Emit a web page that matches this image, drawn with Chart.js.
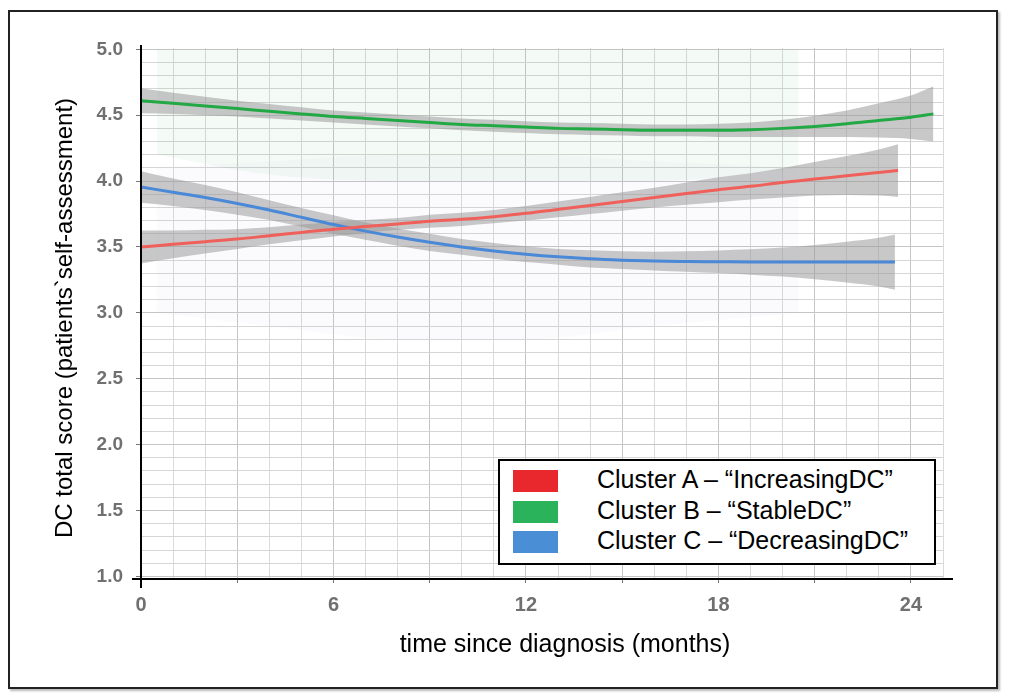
<!DOCTYPE html>
<html>
<head>
<meta charset="utf-8">
<script src="https://cdn.jsdelivr.net/npm/chart.js@4.4.1/dist/chart.umd.min.js"></script>
<style>
  body { margin: 0; background: #fff; }
  #wrap { position: relative; width: 1010px; height: 697px; }
  #frame { position: absolute; left: 8px; top: 10px; width: 986px; height: 675px; border: 2px solid #222; box-shadow: 2px 2px 2px #bbb; }
  canvas { position: absolute; left: 0; top: 0; }
  #legend { position: absolute; left: 498px; top: 459px; width: 434px; height: 102px; border: 2px solid #000; background: #fff;
            font-family: Arial, "Liberation Sans", sans-serif; font-size: 25px; color: #000; }
  .row { position: absolute; left: 0; height: 24px; }
  .sw { position: absolute; left: 13px; top: 0; width: 45px; height: 22px; }
  .tx { position: absolute; left: 97px; top: -5px; white-space: nowrap; }
</style>
</head>
<body>
<div id="wrap">
  <div id="frame"></div>
  <canvas id="chart" width="1010" height="697"></canvas>
  <div id="legend"></div>
</div>
<script>
// cluster names and colours
const seriesNames = ['Cluster A \u2013 \u201cIncreasingDC\u201d', 'Cluster B \u2013 \u201cStableDC\u201d', 'Cluster C \u2013 \u201cDecreasingDC\u201d'];
const lineColors = ['#f0605a', '#22a844', '#4a88d8'];
const legendColors = ['#e8282c', '#2bb35b', '#4a8fd6'];

// months since diagnosis for each fitted curve
const monthsA = [0, 1, 2, 3, 4, 5, 6, 7, 8, 9, 10, 11, 12, 13, 14, 15, 16, 17, 18, 19, 20, 21, 22, 23, 23.6];
const monthsB = [0, 1, 2, 3, 4, 5, 6, 7, 8, 9, 10, 11, 12, 13, 14, 15, 16, 17, 18, 19, 20, 21, 22, 23, 24, 24.7];
const monthsC = [0, 1, 2, 3, 4, 5, 6, 7, 8, 9, 10, 11, 12, 13, 14, 15, 16, 17, 18, 19, 20, 21, 22, 23, 23.5];

// Cluster A - increasing
const fitA = [3.50, 3.52, 3.54, 3.56, 3.585, 3.61, 3.635, 3.655, 3.675, 3.695, 3.71, 3.73, 3.755, 3.785, 3.815, 3.845, 3.875, 3.905, 3.935, 3.96, 3.99, 4.015, 4.04, 4.065, 4.08];
const lowA = [3.375, 3.415, 3.45, 3.485, 3.52, 3.55, 3.58, 3.605, 3.63, 3.645, 3.66, 3.68, 3.70, 3.725, 3.75, 3.775, 3.80, 3.82, 3.84, 3.86, 3.875, 3.89, 3.895, 3.89, 3.88];
const highA = [3.625, 3.625, 3.63, 3.635, 3.65, 3.67, 3.69, 3.705, 3.72, 3.745, 3.76, 3.78, 3.81, 3.845, 3.88, 3.915, 3.95, 3.99, 4.03, 4.06, 4.10, 4.145, 4.19, 4.24, 4.28];

// Cluster B - stable
const fitB = [4.61, 4.59, 4.57, 4.55, 4.53, 4.51, 4.49, 4.475, 4.46, 4.445, 4.43, 4.42, 4.41, 4.40, 4.395, 4.39, 4.385, 4.385, 4.385, 4.39, 4.40, 4.415, 4.435, 4.46, 4.485, 4.51];
const lowB = [4.515, 4.51, 4.50, 4.49, 4.475, 4.46, 4.445, 4.43, 4.415, 4.40, 4.385, 4.375, 4.365, 4.355, 4.35, 4.345, 4.34, 4.34, 4.335, 4.335, 4.335, 4.335, 4.335, 4.33, 4.32, 4.30];
const highB = [4.705, 4.67, 4.64, 4.61, 4.585, 4.56, 4.535, 4.52, 4.505, 4.49, 4.475, 4.465, 4.455, 4.445, 4.44, 4.435, 4.43, 4.43, 4.435, 4.445, 4.465, 4.495, 4.535, 4.59, 4.65, 4.72];

// Cluster C - decreasing
const fitC = [3.955, 3.915, 3.875, 3.83, 3.78, 3.725, 3.67, 3.62, 3.575, 3.535, 3.50, 3.47, 3.445, 3.425, 3.41, 3.40, 3.393, 3.39, 3.388, 3.386, 3.385, 3.385, 3.385, 3.385, 3.385];
const lowC = [3.835, 3.81, 3.78, 3.745, 3.705, 3.655, 3.60, 3.555, 3.51, 3.47, 3.44, 3.41, 3.385, 3.365, 3.345, 3.333, 3.322, 3.312, 3.302, 3.29, 3.275, 3.255, 3.23, 3.20, 3.175];
const highC = [4.075, 4.02, 3.97, 3.915, 3.855, 3.795, 3.74, 3.685, 3.64, 3.60, 3.56, 3.53, 3.505, 3.485, 3.475, 3.467, 3.464, 3.468, 3.474, 3.482, 3.495, 3.515, 3.54, 3.57, 3.595];

// rough outline of the faint individual trajectories behind the fits
const cloudMonths = [0.5, 4, 8, 12, 16, 20.5];
const cloudGreenLow = [4.2, 4.05, 4.0, 4.0, 4.0, 4.1];
const cloudGreenHigh = [5.0, 5.0, 5.0, 5.0, 5.0, 5.0];
const cloudRestLow = [3.0, 2.9, 2.8, 2.8, 2.9, 3.0];
const cloudRestHigh = [4.1, 4.15, 4.2, 4.2, 4.15, 4.1];

const xTickLabels = [0, 6, 12, 18, 24];

function pts(xs, ys) {
  return xs.map((x, i) => ({ x: x, y: ys[i] }));
}

const bandColor = 'rgba(155,155,155,0.55)';
const smooth = { pointRadius: 0, cubicInterpolationMode: 'monotone' };
const datasets = [];

// fitted lines (on top)
[[monthsA, fitA], [monthsB, fitB], [monthsC, fitC]].forEach((s, i) => {
  datasets.push(Object.assign({
    label: seriesNames[i], data: pts(s[0], s[1]), borderColor: lineColors[i], borderWidth: 3, fill: false, order: 0
  }, smooth));
});

// confidence bands
[[monthsA, lowA, highA], [monthsB, lowB, highB], [monthsC, lowC, highC]].forEach(s => {
  datasets.push(Object.assign({ data: pts(s[0], s[1]), borderWidth: 0, fill: false, order: 1 }, smooth));
  datasets.push(Object.assign({ data: pts(s[0], s[2]), borderWidth: 0, fill: '-1', backgroundColor: bandColor, order: 1 }, smooth));
});

// faint clouds of raw trajectories
datasets.push(Object.assign({ data: pts(cloudMonths, cloudGreenLow), borderWidth: 0, fill: false, order: 2 }, smooth));
datasets.push(Object.assign({ data: pts(cloudMonths, cloudGreenHigh), borderWidth: 0, fill: '-1', backgroundColor: 'rgba(60,180,110,0.06)', order: 2 }, smooth));
datasets.push(Object.assign({ data: pts(cloudMonths, cloudRestLow), borderWidth: 0, fill: false, order: 2 }, smooth));
datasets.push(Object.assign({ data: pts(cloudMonths, cloudRestHigh), borderWidth: 0, fill: '-1', backgroundColor: 'rgba(170,140,200,0.045)', order: 2 }, smooth));

const isHalf = v => Math.abs(v * 2 - Math.round(v * 2)) < 1e-6;

// black axis lines and the two axis titles
const axesPlugin = {
  id: 'axesPlugin',
  afterDraw(chart) {
    const ctx = chart.ctx;
    const a = chart.chartArea;
    ctx.save();
    ctx.strokeStyle = '#000';
    ctx.lineWidth = 2;
    ctx.beginPath();
    ctx.moveTo(a.left, a.top - 3);
    ctx.lineTo(a.left, a.bottom + 9);
    ctx.moveTo(a.left - 9, a.bottom);
    ctx.lineTo(a.right + 10, a.bottom);
    ctx.stroke();

    ctx.fillStyle = '#000';
    ctx.font = '25px Arial, "Liberation Sans", sans-serif';
    ctx.textAlign = 'center';
    ctx.textBaseline = 'middle';
    ctx.fillText('time since diagnosis (months)', 565, 645);
    ctx.font = '24px Arial, "Liberation Sans", sans-serif';
    ctx.translate(65, 318);
    ctx.rotate(-Math.PI / 2);
    ctx.fillText('DC total score (patients`self-assessment)', 0, 0);
    ctx.restore();
  }
};

new Chart(document.getElementById('chart'), {
  type: 'line',
  data: { datasets: datasets },
  options: {
    responsive: false,
    animation: false,
    devicePixelRatio: 1,
    layout: { padding: { left: 0, right: 67, top: 48, bottom: 0 } },
    plugins: { legend: { display: false }, tooltip: { enabled: false } },
    scales: {
      x: {
        type: 'linear', min: 0, max: 25,
        border: { display: false },
        grid: {
          color: c => (c.tick.value % 3 === 0 ? '#c6c6c6' : '#dadada'),
          tickColor: c => (c.tick.value % 3 === 0 && c.tick.value <= 24 ? '#777' : 'transparent'),
          tickLength: 4, lineWidth: 1
        },
        ticks: {
          stepSize: 1, autoSkip: false, maxRotation: 0, padding: 10,
          color: '#707070', font: { family: 'Arial, "Liberation Sans", sans-serif', size: 20, weight: 'bold' },
          callback: v => (xTickLabels.includes(v) ? String(v) : '')
        },
        afterFit: s => { s.height = 118; }
      },
      y: {
        min: 0.98, max: 5.01,
        border: { display: false },
        grid: {
          color: c => (isHalf(c.tick.value) ? '#c6c6c6' : '#d6d6d6'),
          tickColor: c => (isHalf(c.tick.value) ? '#777' : 'transparent'),
          tickLength: 5, lineWidth: 1
        },
        ticks: {
          stepSize: 0.1, includeBounds: false, autoSkip: false, padding: 13,
          color: '#707070', font: { family: 'Arial, "Liberation Sans", sans-serif', size: 19, weight: 'bold' },
          callback: v => (isHalf(v) ? v.toFixed(1) : '')
        },
        afterFit: s => { s.width = 141; }
      }
    }
  },
  plugins: [axesPlugin]
});

// legend box
const legend = document.getElementById('legend');
seriesNames.forEach((name, i) => {
  const row = document.createElement('div');
  row.className = 'row';
  row.style.top = (9 + i * 30.5) + 'px';
  row.innerHTML = '<div class="sw" style="background:' + legendColors[i] + '"></div><div class="tx">' + name + '</div>';
  legend.appendChild(row);
});
</script>
</body>
</html>
